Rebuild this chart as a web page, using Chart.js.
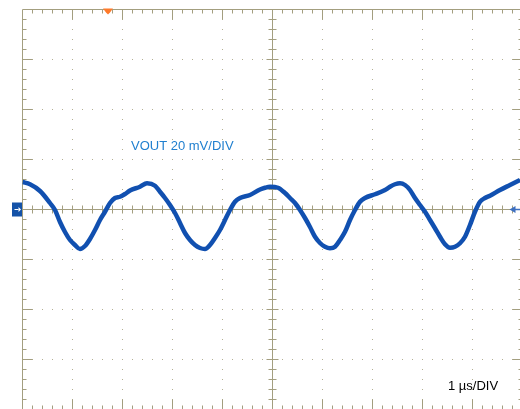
<!DOCTYPE html>
<html>
<head>
<meta charset="utf-8">
<script src="https://cdn.jsdelivr.net/npm/chart.js@4"></script>
<style>
html, body { margin: 0; padding: 0; background: #fff; overflow: hidden; }
#wrap { position: relative; width: 520px; height: 409px; overflow: hidden; }
canvas { position: absolute; left: 0; top: 0; }
</style>
</head>
<body>
<div id="wrap"><canvas id="scope" width="530" height="420"></canvas></div>
<script>
// time in us (1 us/div), VOUT in mV (20 mV/div)
const timeUs = [0, 0.15, 0.35, 0.55, 0.65, 0.75, 0.85, 0.95, 1.05, 1.15, 1.25, 1.35, 1.45, 1.55, 1.65, 1.75, 1.85, 1.95, 2.05, 2.15,
  2.35, 2.49, 2.65, 2.75, 2.85, 2.95, 3.05, 3.15, 3.25, 3.35, 3.45, 3.55, 3.65, 3.75, 3.85, 3.95, 4.05, 4.15, 4.25, 4.35,
  4.55, 4.75, 4.85, 4.95, 5.11, 5.25, 5.35, 5.45, 5.55, 5.65, 5.75, 5.85, 5.95, 6.05, 6.15, 6.25, 6.35, 6.45, 6.55, 6.65,
  6.75, 6.85, 7.05, 7.25, 7.35, 7.45, 7.55, 7.65, 7.75, 7.85, 7.95, 8.05, 8.15, 8.25, 8.35, 8.45, 8.55, 8.65, 8.75, 8.85,
  8.95, 9.05, 9.15, 9.25, 9.35, 9.55, 9.75, 9.95];
const voutMv = [11.0, 10.1, 7.4, 2.6, -0.2, -5.0, -9.0, -12.2, -14.2, -15.8, -14.6, -11.8, -8.2, -4.2, -0.9, 2.6, 4.6, 5.1, 6.2, 7.6,
  9.1, 10.5, 9.5, 7.1, 4.6, 1.8, -1.4, -5.4, -9.4, -12.2, -14.2, -15.4, -15.8, -14.2, -11.4, -8.2, -4.2, -0.2, 3.1, 4.6,
  5.8, 8.0, 8.7, 9.1, 8.7, 6.6, 4.6, 2.6, -0.2, -3.4, -7.0, -10.9, -13.4, -14.9, -15.5, -14.9, -12.2, -8.9, -4.2, -0.2,
  3.1, 4.6, 6.1, 7.8, 9.1, 10.1, 10.5, 9.8, 7.8, 4.6, 1.8, -0.9, -4.2, -7.5, -10.9, -13.9, -15.3, -14.9, -13.5, -10.9,
  -6.2, -0.9, 3.1, 4.6, 5.5, 7.8, 9.8, 11.8];

const usPerDiv = 1;
const mvPerDiv = 20;
const divsX = 10;
const divsY = 8;
const triggerTimeUs = 1.71;
const channelLabel = 'VOUT 20 mV/DIV';
const timebaseLabel = '1 \u00b5s/DIV';

const gridColor = '#a39e7f';
const dotColor = '#b3ae92';
const traceColor = '#1150b0';

const points = timeUs.map((t, i) => ({ x: t, y: voutMv[i] }));

const scopeGrid = {
  id: 'scopeGrid',
  beforeDatasetsDraw(chart) {
    const { ctx, scales: { x, y } } = chart;
    const px = v => x.getPixelForValue(v * usPerDiv);
    const py = v => y.getPixelForValue(v * mvPerDiv);
    const left = px(0), right = px(divsX), top = py(divsY / 2), bottom = py(-divsY / 2);
    const cx = px(divsX / 2), cy = py(0);
    ctx.save();

    // dotted division lines
    ctx.fillStyle = dotColor;
    for (let i = 1; i < divsX; i++) {
      if (i === divsX / 2) continue;
      const xx = Math.floor(px(i));
      for (let s = 1; s < divsY * 5; s++) {
        ctx.fillRect(xx, Math.floor(py(divsY / 2 - s / 5)), 1, 1);
      }
    }
    for (let j = 1; j < divsY; j++) {
      if (j === divsY / 2) continue;
      const yy = Math.floor(py(divsY / 2 - j));
      for (let s = 1; s < divsX * 5; s++) {
        ctx.fillRect(Math.floor(px(s / 5)), yy, 1, 1);
      }
    }

    ctx.strokeStyle = gridColor;
    ctx.lineWidth = 1;
    ctx.beginPath();
    // frame
    ctx.moveTo(left, top); ctx.lineTo(left, bottom);
    ctx.moveTo(left, top); ctx.lineTo(right, top);
    ctx.moveTo(right, top); ctx.lineTo(right, bottom);
    ctx.moveTo(left, bottom); ctx.lineTo(right, bottom);
    // center cross
    ctx.moveTo(cx, top); ctx.lineTo(cx, bottom);
    ctx.moveTo(left, cy); ctx.lineTo(right, cy);

    // ticks along x (top, bottom, center)
    for (let s = 1; s < divsX * 5; s++) {
      const xx = Math.floor(px(s / 5)) + 0.5;
      const major = s % 5 === 0;
      const len = major ? 10 : 4;
      ctx.moveTo(xx, top); ctx.lineTo(xx, top + len);
      ctx.moveTo(xx, bottom); ctx.lineTo(xx, bottom - len);
      ctx.moveTo(xx, cy - 4); ctx.lineTo(xx, cy + 4);
    }
    // ticks along y (left, right, center)
    for (let s = 1; s < divsY * 5; s++) {
      const yy = Math.floor(py(divsY / 2 - s / 5)) + 0.5;
      const major = s % 5 === 0;
      const len = major ? 10 : 4;
      ctx.moveTo(left, yy); ctx.lineTo(left + len, yy);
      ctx.moveTo(right, yy); ctx.lineTo(right - len, yy);
      const c = major ? 6 : 4;
      ctx.moveTo(cx - c, yy); ctx.lineTo(cx + c, yy);
    }
    ctx.stroke();
    ctx.restore();
  },
  afterDraw(chart) {
    const { ctx, scales: { x, y } } = chart;
    const left = x.getPixelForValue(0);
    const right = x.getPixelForValue(divsX * usPerDiv);
    const top = y.getPixelForValue(divsY / 2 * mvPerDiv);
    const cy = y.getPixelForValue(0);
    const tx = x.getPixelForValue(triggerTimeUs);
    ctx.save();

    // trigger position marker
    ctx.fillStyle = '#ff7a2a';
    ctx.beginPath();
    ctx.moveTo(tx - 5, top - 1);
    ctx.lineTo(tx + 5, top - 1);
    ctx.lineTo(tx + 2, top + 3);
    ctx.lineTo(tx, top + 5);
    ctx.lineTo(tx - 2, top + 3);
    ctx.closePath();
    ctx.fill();

    // channel ground marker
    ctx.fillStyle = '#1452a8';
    ctx.fillRect(left - 10.5, cy - 7, 10, 14);
    ctx.strokeStyle = '#ffffff';
    ctx.fillStyle = '#ffffff';
    ctx.lineWidth = 1;
    ctx.beginPath();
    ctx.moveTo(left - 8, cy); ctx.lineTo(left - 4, cy);
    ctx.stroke();
    ctx.beginPath();
    ctx.moveTo(left - 4, cy - 2.5); ctx.lineTo(left - 1.5, cy); ctx.lineTo(left - 4, cy + 2.5);
    ctx.closePath();
    ctx.fill();

    // trigger level marker
    ctx.strokeStyle = '#3d6fc0';
    ctx.fillStyle = '#3d6fc0';
    ctx.lineWidth = 1.5;
    ctx.beginPath();
    ctx.moveTo(right - 8, cy); ctx.lineTo(right, cy);
    ctx.stroke();
    ctx.beginPath();
    ctx.moveTo(right - 13, cy); ctx.lineTo(right - 7, cy - 3.5); ctx.lineTo(right - 7, cy + 3.5);
    ctx.closePath();
    ctx.fill();

    // labels
    ctx.font = '13px "Liberation Sans", Arial, sans-serif';
    ctx.textBaseline = 'alphabetic';
    ctx.fillStyle = '#1f7fcf';
    ctx.fillText(channelLabel, 131, 149.5);
    ctx.fillStyle = '#000000';
    ctx.fillText(timebaseLabel, 448, 390);
    ctx.restore();
  }
};

const ctx = document.getElementById('scope');
new Chart(ctx, {
  type: 'line',
  data: {
    datasets: [{
      label: 'VOUT',
      data: points,
      borderColor: traceColor,
      borderWidth: 4.5,
      pointRadius: 0,
      cubicInterpolationMode: 'monotone',
      fill: false
    }]
  },
  options: {
    responsive: false,
    animation: false,
    devicePixelRatio: 1,
    layout: {
      padding: { left: 22.5, top: 9.5, right: 7.5, bottom: 10.5 }
    },
    scales: {
      x: { type: 'linear', min: 0, max: divsX * usPerDiv, display: false },
      y: { type: 'linear', min: -divsY / 2 * mvPerDiv, max: divsY / 2 * mvPerDiv, display: false }
    },
    plugins: {
      legend: { display: false },
      tooltip: { enabled: false }
    }
  },
  plugins: [scopeGrid]
});
</script>
</body>
</html>
